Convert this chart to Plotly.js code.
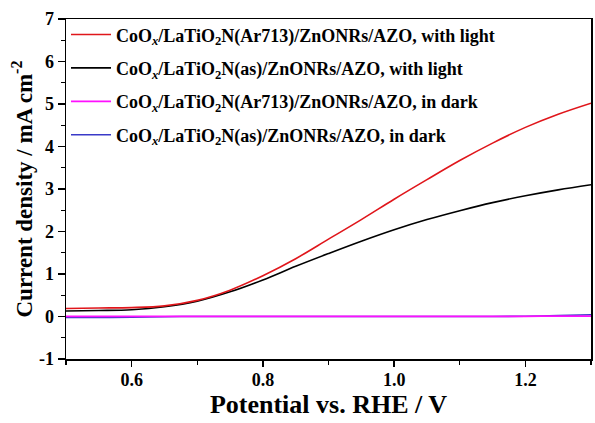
<!DOCTYPE html>
<html>
<head>
<meta charset="utf-8">
<script src="https://cdn.plot.ly/plotly-3.0.1.min.js"></script>
<style>html,body{margin:0;padding:0;background:#fff;}#chart{width:595px;height:423px;}</style>
</head>
<body>
<div id="chart"></div>
<script>
// Potential vs. RHE (V)
var potential = [0.5,0.55,0.6,0.65,0.7,0.75,0.8,0.85,0.9,0.95,1.0,1.05,1.1,1.15,1.2,1.25,1.3];
// Current density (mA cm^-2)
var ar713Light = [0.19,0.20,0.21,0.25,0.38,0.62,0.96,1.36,1.82,2.28,2.76,3.22,3.67,4.08,4.45,4.76,5.02];
var asLight    = [0.13,0.14,0.16,0.23,0.36,0.58,0.86,1.18,1.48,1.77,2.04,2.28,2.49,2.68,2.84,2.98,3.10];
var ar713Dark  = [0.005,0.005,0.005,0.005,0.005,0.005,0.005,0.005,0.005,0.005,0.005,0.005,0.005,0.005,0.005,0.01,0.01];
var asDark     = [-0.02,-0.02,-0.018,-0.005,0,0,0,0,0,0,0,0,0,0,0.005,0.02,0.04];
var seriesNames = [
  "CoO<sub><i>x</i></sub>/LaTiO<sub>2</sub>N(Ar713)/ZnONRs/AZO, with light",
  "CoO<sub><i>x</i></sub>/LaTiO<sub>2</sub>N(as)/ZnONRs/AZO, with light",
  "CoO<sub><i>x</i></sub>/LaTiO<sub>2</sub>N(Ar713)/ZnONRs/AZO, in dark",
  "CoO<sub><i>x</i></sub>/LaTiO<sub>2</sub>N(as)/ZnONRs/AZO, in dark"
];
var xTicks = [0.6,0.8,1.0,1.2];
var xTickText = ["0.6","0.8","1.0","1.2"];
var yTicks = [-1,0,1,2,3,4,5,6,7];
var yTickText = ["-1","0","1","2","3","4","5","6","7"];

var FONT = "Liberation Serif";
var traces = [
  {x: potential, y: asDark, name: seriesNames[3], legendrank: 4, legendgroup: "d", line: {color: "#3a3ac8", width: 1.6}},
  {x: potential, y: ar713Dark, name: seriesNames[2], legendrank: 3, legendgroup: "c", line: {color: "#ff10ff", width: 1.8}},
  {x: potential, y: asLight, name: seriesNames[1], legendrank: 2, legendgroup: "b", line: {color: "#000000", width: 1.6}},
  {x: potential, y: ar713Light, name: seriesNames[0], legendrank: 1, legendgroup: "a", line: {color: "#e0161b", width: 1.6}}
].map(function(t){ t.type = "scatter"; t.mode = "lines"; t.line.shape = "spline"; return t; });

function axisCommon() {
  return {
    showline: true, linecolor: "#000", linewidth: 1.5, mirror: true,
    ticks: "outside", tickwidth: 1.3, tickcolor: "#000",
    showgrid: false, zeroline: false,
    tickfont: {family: FONT, size: 18, color: "#000", weight: "bold"}
  };
}

var layout = {
  width: 595, height: 423,
  margin: {l: 66, r: 4, t: 19, b: 64},
  paper_bgcolor: "#fff", plot_bgcolor: "#fff",
  font: {family: FONT, color: "#000", weight: "bold"},
  showlegend: true,
  legend: {
    x: 0.0, y: 1.008, xanchor: "left", yanchor: "top",
    bgcolor: "rgba(0,0,0,0)", borderwidth: 0,
    itemwidth: 40, tracegroupgap: 7,
    font: {family: FONT, size: 18, color: "#000", weight: "bold"}
  },
  xaxis: Object.assign(axisCommon(), {
    range: [0.5, 1.3], tickvals: xTicks, ticktext: xTickText, ticklen: 6,
    ticklabelstandoff: -2,
    minor: {dtick: 0.1, tick0: 0.5, ticks: "outside", ticklen: 4, tickwidth: 1.3, tickcolor: "#000"},
    title: {text: "Potential vs. RHE / V", font: {family: FONT, size: 26, weight: "bold", color: "#000"}, standoff: 0}
  }),
  yaxis: Object.assign(axisCommon(), {
    range: [-1, 7], tickvals: yTicks, ticktext: yTickText, ticklen: 7,
    minor: {dtick: 0.5, tick0: 0, ticks: "outside", ticklen: 4, tickwidth: 1.3, tickcolor: "#000"},
    title: {text: "Current density / mA cm<sup>-2</sup>", font: {family: FONT, size: 23, weight: "bold", color: "#000"}, standoff: 0}
  })
};

Plotly.newPlot("chart", traces, layout, {staticPlot: true, displayModeBar: false});
</script>
</body>
</html>
